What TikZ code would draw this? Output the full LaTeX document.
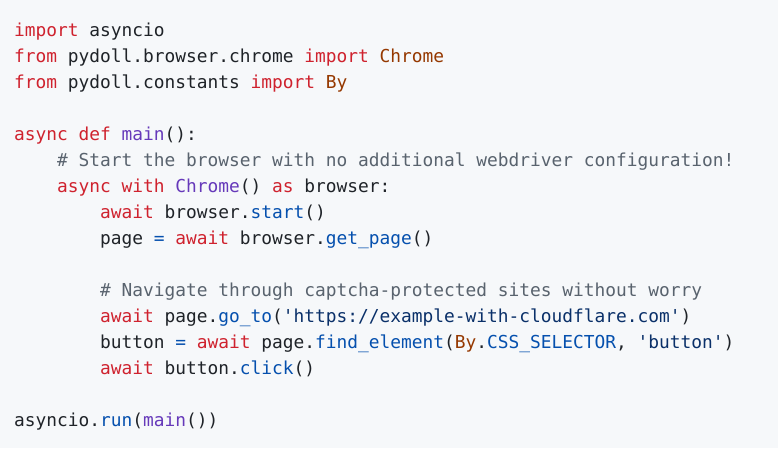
\documentclass[tikz,border=0pt]{standalone}
\usepackage{fontspec}
\newfontfamily\codefont{DejaVu Sans Mono}
\definecolor{bg}{HTML}{F6F8FA}
\definecolor{kw}{HTML}{CF222E}
\definecolor{ent}{HTML}{6639BA}
\definecolor{cst}{HTML}{0550AE}
\definecolor{cls}{HTML}{953800}
\definecolor{str}{HTML}{0A3069}
\definecolor{cmt}{HTML}{59636E}
\definecolor{txt}{HTML}{1F2328}
\newcommand\K[1]{\textcolor{kw}{#1}}
\newcommand\E[1]{\textcolor{ent}{#1}}
\newcommand\C[1]{\textcolor{cst}{#1}}
\newcommand\Cl[1]{\textcolor{cls}{#1}}
\newcommand\Sr[1]{\textcolor{str}{#1}}
\newcommand\Cm[1]{\textcolor{cmt}{#1}}
\newcommand\qq{\char"27\relax}
\begin{document}
\begin{tikzpicture}[x=1pt,y=-1pt,
  codeline/.style={anchor=base west,inner sep=0pt,outer sep=0pt,text=txt,
    font=\codefont\fontsize{17.86}{26}\selectfont}]
\fill[bg] (0,0) rectangle (778,448);
\useasboundingbox (0,0) rectangle (778,448);
\node[codeline] (l1) at (14,36) {\K{import} asyncio};
\node[codeline] (l2) at (14,62) {\K{from} pydoll.browser.chrome \K{import} \Cl{Chrome}};
\node[codeline] (l3) at (14,88) {\K{from} pydoll.constants \K{import} \Cl{By}};
\node[codeline] (l5) at (14,140) {\K{async} \K{def} \E{main}():};
\node[codeline] (l6) at (57,166) {\Cm{\# Start the browser with no additional webdriver configuration!}};
\node[codeline] (l7) at (57,192) {\K{async} \K{with} \E{Chrome}() \K{as} browser:};
\node[codeline] (l8) at (100,218) {\K{await} browser.\C{start}()};
\node[codeline] (l9) at (100,244) {page \C{=} \K{await} browser.\C{get\_page}()};
\node[codeline] (l11) at (100,296) {\Cm{\# Navigate through captcha-protected sites without worry}};
\node[codeline] (l12) at (100,322) {\K{await} page.\C{go\_to}(\Sr{\qq https://example-with-cloudflare.com\qq})};
\node[codeline] (l13) at (100,348) {button \C{=} \K{await} page.\C{find\_element}(\Cl{By}.\C{CSS\_SELECTOR}, \Sr{\qq button\qq})};
\node[codeline] (l14) at (100,374) {\K{await} button.\C{click}()};
\node[codeline] (l16) at (14,426) {asyncio.\C{run}(\E{main}())};
\end{tikzpicture}
\end{document}
